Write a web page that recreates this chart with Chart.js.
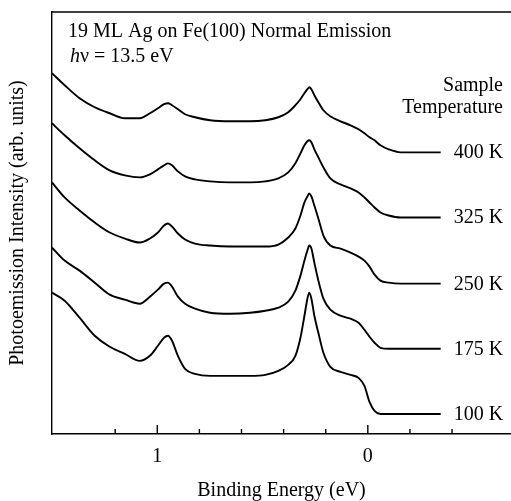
<!DOCTYPE html>
<html lang="en">
<head>
    <meta charset="UTF-8">
    <title>19 ML Ag on Fe(100) - Photoemission vs Temperature</title>
    <style>
        body {
            margin: 0;
            padding: 0;
            background: #fff;
        }
        .chart-box {
            position: relative;
            width: 511px;
            height: 501px;
        }
    </style>
</head>
<body>
    <div class="chart-box">
        <canvas id="spectraChart"></canvas>
    </div>

    <script src="https://cdn.jsdelivr.net/npm/chart.js"></script>
    <script>
        // binding energy (eV) of each sampled point, shared by all spectra
        const bindingEnergy = [1.500, 1.440, 1.369, 1.297, 1.226, 1.154, 1.083, 1.035, 0.997, 0.968,
            0.949, 0.930, 0.902, 0.868, 0.821, 0.749, 0.654, 0.559, 0.487, 0.425,
            0.378, 0.344, 0.320, 0.301, 0.287, 0.278, 0.268, 0.254, 0.235, 0.211,
            0.178, 0.130, 0.082, 0.044, 0.016, -0.008, -0.032, -0.060, -0.099, -0.156,
            -0.251, -0.346];

        const temperatures = ['400 K', '325 K', '250 K', '175 K', '100 K'];

        // intensities (arb. units), already offset as stacked in the figure
        const spectrum400K = [3.60, 3.48, 3.35, 3.26, 3.20, 3.15, 3.15, 3.20, 3.25, 3.29,
            3.30, 3.28, 3.24, 3.19, 3.16, 3.13, 3.12, 3.12, 3.13, 3.16,
            3.21, 3.28, 3.34, 3.40, 3.44, 3.46, 3.44, 3.38, 3.31, 3.23,
            3.17, 3.12, 3.08, 3.04, 3.00, 2.96, 2.93, 2.88, 2.84, 2.81,
            2.81, 2.81];
        const spectrum325K = [3.10, 2.98, 2.85, 2.73, 2.63, 2.58, 2.56, 2.59, 2.64, 2.68,
            2.70, 2.68, 2.62, 2.57, 2.54, 2.52, 2.51, 2.51, 2.52, 2.55,
            2.61, 2.70, 2.80, 2.88, 2.92, 2.93, 2.91, 2.84, 2.76, 2.66,
            2.55, 2.49, 2.45, 2.41, 2.36, 2.31, 2.26, 2.21, 2.18, 2.16,
            2.16, 2.16];
        const spectrum250K = [2.51, 2.36, 2.23, 2.11, 2.01, 1.95, 1.91, 1.95, 2.01, 2.08,
            2.10, 2.07, 2.00, 1.94, 1.90, 1.88, 1.87, 1.87, 1.87, 1.89,
            1.96, 2.05, 2.18, 2.31, 2.37, 2.40, 2.37, 2.28, 2.15, 1.98,
            1.88, 1.85, 1.81, 1.77, 1.73, 1.67, 1.59, 1.53, 1.51, 1.50,
            1.50, 1.50];
        const spectrum175K = [1.86, 1.73, 1.63, 1.51, 1.39, 1.34, 1.30, 1.37, 1.44, 1.50,
            1.51, 1.47, 1.37, 1.30, 1.25, 1.21, 1.20, 1.21, 1.23, 1.26,
            1.32, 1.43, 1.58, 1.73, 1.83, 1.88, 1.85, 1.71, 1.53, 1.35,
            1.24, 1.18, 1.15, 1.11, 1.04, 0.97, 0.91, 0.86, 0.85, 0.85,
            0.85, 0.85];
        const spectrum100K = [1.41, 1.33, 1.16, 0.98, 0.87, 0.80, 0.73, 0.78, 0.88, 0.96,
            0.98, 0.93, 0.78, 0.65, 0.60, 0.58, 0.58, 0.58, 0.59, 0.63,
            0.69, 0.78, 0.96, 1.18, 1.35, 1.41, 1.35, 1.18, 1.01, 0.81,
            0.67, 0.62, 0.59, 0.56, 0.48, 0.32, 0.23, 0.20, 0.20, 0.20,
            0.20, 0.20];

        const spectra = [spectrum400K, spectrum325K, spectrum250K, spectrum175K, spectrum100K];

        const serif = "'Liberation Serif', 'Times New Roman', serif";
        Chart.defaults.font.family = serif;
        Chart.defaults.color = '#000';

        function toPoints(values) {
            return values.map((v, i) => ({ x: bindingEnergy[i], y: v }));
        }

        // top frame line, inward ticks and the text placed inside the plot
        const frameAndLabels = {
            id: 'frameAndLabels',
            afterDraw(chart) {
                const ctx = chart.ctx;
                const area = chart.chartArea;
                const xScale = chart.scales.x;
                ctx.save();
                ctx.strokeStyle = '#000';
                ctx.lineWidth = 1.4;
                ctx.beginPath();
                ctx.moveTo(area.left, area.top);
                ctx.lineTo(area.right, area.top);
                ctx.stroke();

                xScale.ticks.forEach(t => {
                    const v = t.value;
                    if (Math.abs(v * 5 - Math.round(v * 5)) > 1e-6) return;
                    const major = Math.abs(v - Math.round(v)) < 1e-6;
                    const px = xScale.getPixelForValue(v);
                    ctx.beginPath();
                    ctx.moveTo(px, area.bottom);
                    ctx.lineTo(px, area.bottom - (major ? 9 : 5));
                    ctx.stroke();
                });

                ctx.fillStyle = '#000';
                ctx.font = '20px ' + serif;
                ctx.textAlign = 'left';
                ctx.fillText('19 ML Ag on Fe(100) Normal Emission', area.left + 16, area.top + 25);
                ctx.font = 'italic 20px ' + serif;
                ctx.fillText('h', area.left + 18, area.top + 50);
                const hw = ctx.measureText('h').width;
                ctx.font = '20px ' + serif;
                ctx.fillText('\u03bd = 13.5 eV', area.left + 18 + hw, area.top + 50);

                ctx.textAlign = 'right';
                ctx.fillText('Sample', 503, 91);
                ctx.fillText('Temperature', 503, 113);

                ctx.textAlign = 'left';
                chart.data.datasets.forEach((ds, i) => {
                    const pts = chart.getDatasetMeta(i).data;
                    const last = pts[pts.length - 1];
                    ctx.fillText(ds.label, last.x + 13, last.y + 6);
                });
                ctx.restore();
            }
        };

        const ctxSpectra = document.getElementById('spectraChart').getContext('2d');
        new Chart(ctxSpectra, {
            type: 'line',
            data: {
                datasets: spectra.map((values, i) => ({
                    label: temperatures[i],
                    data: toPoints(values),
                    borderColor: '#000',
                    borderWidth: 1.9,
                    pointRadius: 0,
                    cubicInterpolationMode: 'monotone',
                    fill: false
                }))
            },
            options: {
                responsive: true,
                maintainAspectRatio: false,
                animation: false,
                layout: {
                    padding: { top: 12, right: 0, bottom: 0, left: 0 }
                },
                plugins: {
                    legend: { display: false },
                    tooltip: { enabled: false }
                },
                scales: {
                    x: {
                        type: 'linear',
                        reverse: true,
                        min: -0.68,
                        max: 1.5,
                        // tick marks are drawn inward by the plugin; tickLength only spaces the labels
                        grid: { display: false, drawTicks: true, tickLength: 11 },
                        border: { display: true, color: '#000', width: 1.4 },
                        ticks: {
                            stepSize: 0.2,
                            autoSkip: false,
                            maxRotation: 0,
                            padding: 0,
                            font: { size: 20 },
                            callback: v => Math.abs(v - Math.round(v)) < 1e-6 ? String(Math.round(v)) : ''
                        },
                        title: {
                            display: true,
                            text: 'Binding Energy (eV)',
                            font: { size: 20, lineHeight: 1 },
                            padding: { top: 12, bottom: 0 }
                        }
                    },
                    y: {
                        min: 0,
                        max: 4.21,
                        grid: { display: false, drawTicks: false },
                        border: { display: true, color: '#000', width: 1.4 },
                        ticks: { display: false },
                        title: {
                            display: true,
                            text: 'Photoemission Intensity (arb. units)',
                            font: { size: 20 },
                            padding: { top: 6, bottom: 22 }
                        }
                    }
                }
            },
            plugins: [frameAndLabels]
        });
    </script>
</body>
</html>
